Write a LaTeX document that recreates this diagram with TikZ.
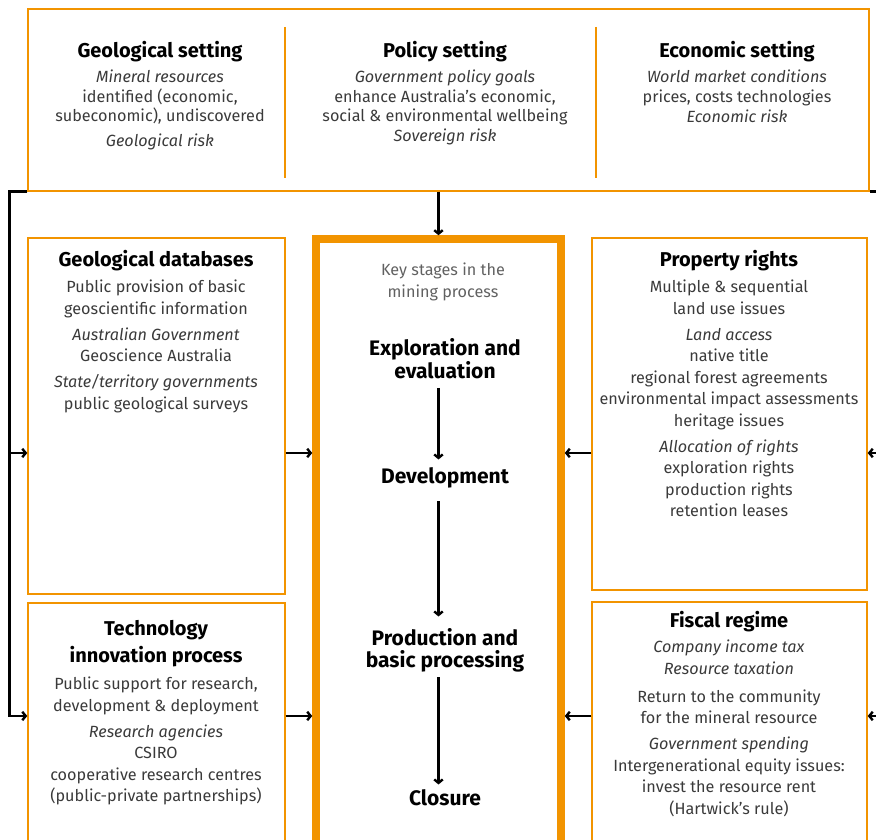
\documentclass[tikz,border=0pt]{standalone}
\usepackage{fontspec}
\setsansfont{Fira Sans}
\usetikzlibrary{arrows.meta,positioning}
\definecolor{minorange}{HTML}{F29400}
\definecolor{bodygrey}{HTML}{3A3A3A}

\begin{document}
\begin{tikzpicture}[x=1pt, y=1pt,
    panel/.style = {draw=minorange, line width=1.4pt, inner sep=0pt},
    heading/.style = {align=center, inner sep=0pt, anchor=north,
            font=\sffamily\bfseries\fontsize{20}{27}\selectfont},
    blurb/.style = {align=center, inner sep=0pt, anchor=north, text=bodygrey,
            font=\sffamily\fontsize{16.2}{21.5}\selectfont},
    topblurb/.style = {blurb, font=\sffamily\fontsize{16.2}{19.5}\selectfont},
    stage/.style = {align=center, inner sep=0pt, anchor=north,
            font=\sffamily\bfseries\fontsize{21}{21.5}\selectfont},
    link/.style = {-{Straight Barb[length=3.5pt,width=8.5pt]}, line width=2.4pt}]
    \useasboundingbox (0,0) rectangle (876,840);
    \clip (0,0) rectangle (876,840);
    \coordinate (uprow) at (0,387);
    \coordinate (lowrow) at (0,124);

    % frames
    \node [panel, minimum width=841pt, minimum height=182pt] (settings) at (448.5,740) {};
    \draw [minorange, line width=1.4pt] (285,813) -- (285,662) (596,813) -- (596,662);
    \node [panel, minimum width=257pt, minimum height=356pt] (geodb) at (156.5,424) {};
    \node [panel, minimum width=257pt, minimum height=247pt] (techbox) at (156.5,113.5) {};
    \node [panel, minimum width=275pt, minimum height=352pt] (property) at (729.5,426) {};
    \node [panel, minimum width=275pt, minimum height=248pt] (fiscal) at (729.5,114) {};
    \node [draw=minorange, line width=7.5pt, minimum width=245pt, minimum height=611pt] (stages) at (438.5,295.5) {};

    % settings row
    \node [heading] (geosetT) at (160,799) {Geological setting};
    \node [topblurb] (geosetB) at (160,770)
        {\textit{Mineral resources}\\identified (economic,\\subeconomic), undiscovered\\[5.5pt]\textit{Geological risk}};
    \node [heading] (polsetT) at (445,799) {Policy setting};
    \node [topblurb] (polsetB) at (445,770)
        {\textit{Government policy goals}\\enhance Australia's economic,\\social \& environmental wellbeing\\\textit{Sovereign risk}};
    \node [heading] (ecosetT) at (737,799) {Economic setting};
    \node [topblurb] (ecosetB) at (737,770)
        {\textit{World market conditions}\\prices, costs technologies\\[1pt]\textit{Economic risk}};

    % side panels
    \node [heading] (geodbT) at (156,590) {Geological databases};
    \node [blurb] (geodbB) at (156,560)
        {Public provision of basic\\geoscientific information\\[4.5pt]\textit{Australian Government}\\Geoscience Australia\\[4.5pt]\textit{State/territory governments}\\public geological surveys};
    \node [heading] (propertyT) at (729,590) {Property rights};
    \node [blurb] (propertyB) at (729,560)
        {Multiple \& sequential\\land use issues\\[4.5pt]\textit{Land access}\\native title\\regional forest agreements\\environmental impact assessments\\heritage issues\\[4.5pt]\textit{Allocation of rights}\\exploration rights\\production rights\\retention leases};
    \node [heading] (techT) at (156,220) {Technology\\innovation process};
    \node [blurb] (techB) at (156,163)
        {Public support for research,\\development \& deployment\\[4.5pt]\textit{Research agencies}\\CSIRO\\cooperative research centres\\(public-private partnerships)};
    \node [heading] (fiscalT) at (729,229) {Fiscal regime};
    \node [blurb] (fiscalB) at (729,200)
        {\textit{Company income tax}\\\textit{Resource taxation}\\[6.5pt]Return to the community\\for the mineral resource\\[4.5pt]\textit{Government spending}\\Intergenerational equity issues:\\invest the resource rent\\(Hartwick's rule)};

    % mining stages
    \node [blurb, text=bodygrey!80] (keystages) at (443,577) {Key stages in the\\mining process};
    \node [stage] (explore) at (445,501.5) {Exploration and\\evaluation};
    \node [stage] (develop) at (445,372.5) {Development};
    \node [stage] (produce) at (445,211.5) {Production and\\basic processing};
    \node [stage] (closure) at (445,50.5) {Closure};

    \draw [link, shorten <=9pt, shorten >=8pt] (stages.center |- explore.south) -- (stages.center |- develop.north);
    \draw [link, shorten <=13pt, shorten >=12pt] (stages.center |- develop.south) -- (stages.center |- produce.north);
    \draw [link, shorten <=5pt, shorten >=5pt] (stages.center |- produce.south) -- (stages.center |- closure.north);

    % influences
    \draw [link] (settings.south -| stages.north) -- (stages.north);
    \draw [link] (geodb.east |- uprow) -- (stages.west |- uprow);
    \draw [link] (techbox.east |- lowrow) -- (stages.west |- lowrow);
    \draw [link] (property.west |- uprow) -- (stages.east |- uprow);
    \draw [link] (fiscal.west |- lowrow) -- (stages.east |- lowrow);

    % feedback from the settings
    \draw [link] (settings.south west) -- ++(-18pt,0) coordinate (lturn) |- (techbox.west |- lowrow);
    \draw [link] (lturn |- uprow) -- (geodb.west |- uprow);
    \draw [link] (settings.south east) -- ++(14pt,0) coordinate (rturn) |- (fiscal.east |- lowrow);
    \draw [link] (rturn |- uprow) -- (property.east |- uprow);
\end{tikzpicture}
\end{document}
